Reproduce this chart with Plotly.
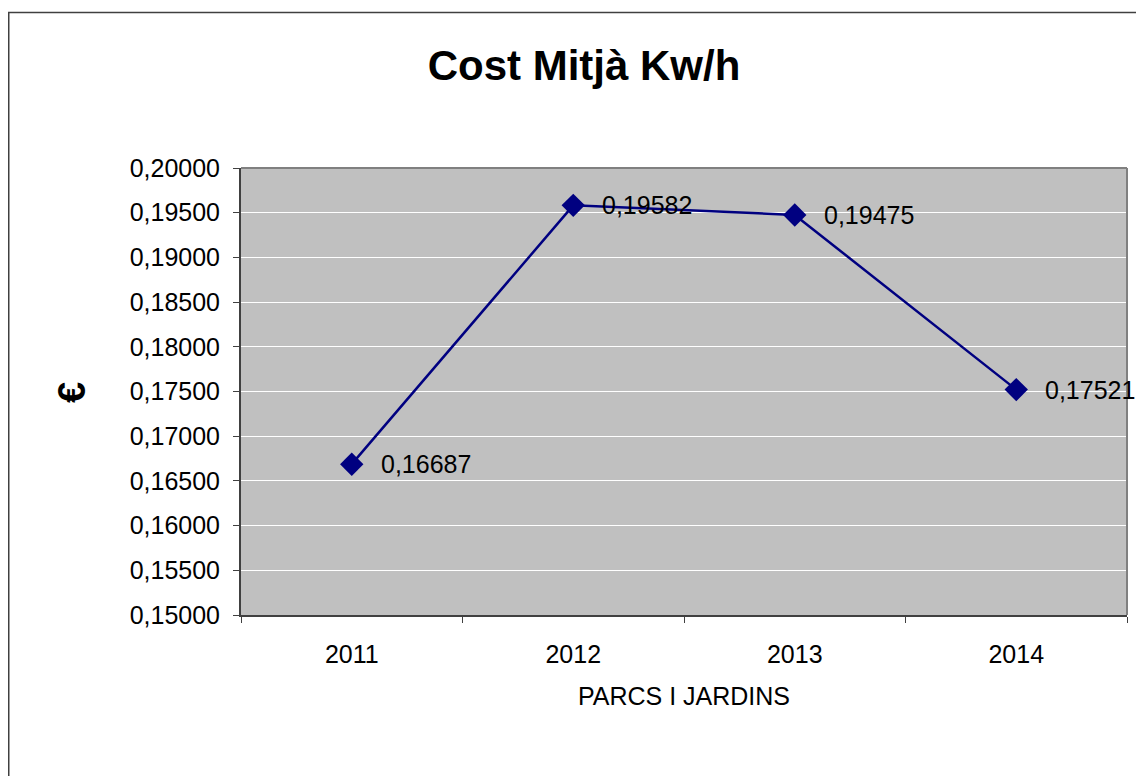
import plotly.graph_objects as go

years = ["2011", "2012", "2013", "2014"]
cost = [0.16687, 0.19582, 0.19475, 0.17521]
labels = ["0,16687", "0,19582", "0,19475", "0,17521"]
y_ticks = [0.15, 0.155, 0.16, 0.165, 0.17, 0.175, 0.18, 0.185, 0.19, 0.195, 0.20]
y_tick_text = ["0,15000", "0,15500", "0,16000", "0,16500", "0,17000", "0,17500",
               "0,18000", "0,18500", "0,19000", "0,19500", "0,20000"]

# page has an 8px body margin; figure coordinates = page coordinates - 8
W, H = 1136, 768
L, R, T, B = 233, 17, 160, 161
pw, ph = W - L - R, H - T - B

def px_x(p):
    return (p - L) / pw

def px_y(p):
    return (H - B - p) / ph

FONT = "Liberation Sans, Arial, sans-serif"
FS = 25

fig = go.Figure()
fig.add_trace(go.Scatter(
    x=years, y=cost, mode="lines+markers",
    line=dict(color="#000080", width=2.5),
    marker=dict(symbol="diamond", size=18, color="#000080"),
    cliponaxis=False, showlegend=False, hoverinfo="skip",
))

annotations = [
    dict(x=i, y=yv, text=t, xref="x", yref="y", showarrow=False,
         xanchor="left", yanchor="middle", xshift=27,
         font=dict(family=FONT, size=FS, color="black"))
    for i, (yv, t) in enumerate(zip(cost, labels))
]
annotations.append(
    dict(text="<b>€</b>", xref="paper", yref="paper", x=px_x(64), y=px_y(385),
         xanchor="center", yanchor="middle",
         showarrow=False, textangle=-90, font=dict(family=FONT, size=38, color="black"))
)

fig.update_layout(
    width=W, height=H,
    margin=dict(l=L, r=R, t=T, b=B),
    paper_bgcolor="white", plot_bgcolor="#C0C0C0",
    font=dict(family=FONT, size=FS, color="black"),
    title=dict(text="<b>Cost Mitjà Kw/h</b>", x=576 / W, xanchor="center",
               y=1 - 57 / H, yanchor="middle",
               font=dict(family=FONT, size=42, color="black")),
    xaxis=dict(
        type="category", categoryorder="array", categoryarray=years,
        range=[-0.5, len(years) - 0.5], autorange=False,
        tickson="boundaries", ticks="outside", ticklen=6, tickangle=0,
        tickcolor="#404040", showgrid=False, showline=True, linecolor="#404040",
        linewidth=2, mirror=False, zeroline=False,
        tickfont=dict(family=FONT, size=FS), ticklabelstandoff=16,
        title=dict(text="PARCS I JARDINS", font=dict(family=FONT, size=FS), standoff=20),
    ),
    yaxis=dict(
        range=[0.15, 0.20], tickvals=y_ticks, ticktext=y_tick_text,
        ticks="outside", ticklen=6, tickcolor="#404040",
        showgrid=True, gridcolor="white", gridwidth=1,
        showline=True, linecolor="#404040", linewidth=2, zeroline=False,
        tickfont=dict(family=FONT, size=FS), ticklabelstandoff=8,
    ),
    shapes=[
        dict(type="line", xref="paper", yref="paper", x0=0, x1=1, y0=1, y1=1,
             line=dict(color="#808080", width=2)),
        dict(type="line", xref="paper", yref="paper", x0=1, x1=1, y0=0, y1=1,
             line=dict(color="#808080", width=2)),
        dict(type="rect", xref="paper", yref="paper",
             x0=px_x(0.75), x1=px_x(1160), y0=px_y(790), y1=px_y(4.5),
             line=dict(color="#404040", width=1.5), fillcolor="rgba(0,0,0,0)",
             layer="below"),
    ],
    annotations=annotations,
)

fig.write_html("out.html")
